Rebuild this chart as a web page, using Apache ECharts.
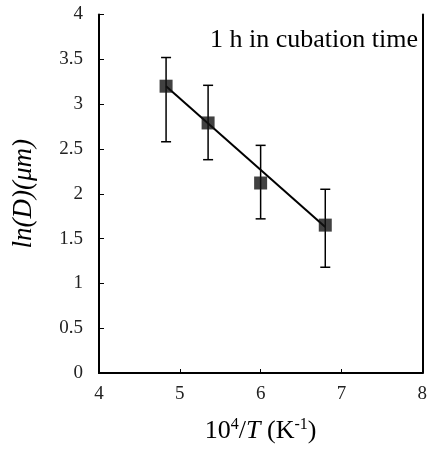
<!DOCTYPE html>
<html>
<head>
<meta charset="utf-8">
<script src="https://cdn.jsdelivr.net/npm/echarts@6/dist/echarts.min.js"></script>
<style>
  html, body { margin: 0; padding: 0; background: #fff; }
  #chart { width: 430px; height: 450px; }
</style>
</head>
<body>
<div id="chart"></div>
<script>
// data
const xVals = [4.83, 5.35, 6.0, 6.8];
const yVals = [3.2, 2.79, 2.12, 1.65];
const errHigh = [3.52, 3.21, 2.54, 2.05];
const errLow = [2.58, 2.38, 1.72, 1.18];
const fitLine = [[4.83, 3.2], [6.8, 1.63]];
const xTicks = [4, 5, 6, 7, 8];
const yTicks = [0, 0.5, 1, 1.5, 2, 2.5, 3, 3.5, 4];
const noteText = '1 h in cubation time';

const serif = '"Liberation Serif", "DejaVu Serif", serif';

const chart = echarts.init(document.getElementById('chart'));

const points = xVals.map((x, i) => [x, yVals[i]]);
const bars = xVals.map((x, i) => [x, errLow[i], errHigh[i]]);

chart.setOption({
    animation: false,
    grid: { left: 99, right: 6, top: 14.5, bottom: 77, containLabel: false },
    xAxis: [
        {
            type: 'value', min: xTicks[0], max: xTicks[xTicks.length - 1], interval: 1,
            position: 'bottom',
            axisLine: { lineStyle: { color: '#000', width: 2 } },
            axisTick: { inside: true, length: 4, lineStyle: { color: '#000', width: 1 } },
            axisLabel: { color: '#222', fontFamily: serif, fontSize: 19, margin: 12 },
            splitLine: { show: false },
            name: '10{sup|4}/{i|T} (K{sup|-1})',
            nameLocation: 'middle', nameGap: 44,
            nameTextStyle: {
                color: '#000', fontFamily: serif, fontSize: 26,
                rich: {
                    sup: { fontFamily: serif, fontSize: 16, verticalAlign: 'top', padding: [0, 0, 12, 0], color: '#000' },
                    i: { fontFamily: serif, fontSize: 26, fontStyle: 'italic', color: '#000' }
                }
            }
        },
        {
            type: 'value', min: xTicks[0], max: xTicks[xTicks.length - 1], position: 'top',
            axisLine: { show: true, lineStyle: { color: '#000', width: 2 } },
            axisTick: { show: false }, axisLabel: { show: false }, splitLine: { show: false }
        }
    ],
    yAxis: [
        {
            type: 'value', min: 0, max: 4, interval: 0.5,
            position: 'left',
            axisLine: { show: true, lineStyle: { color: '#000', width: 2 } },
            axisTick: { show: true, inside: true, length: 5, lineStyle: { color: '#000', width: 1 } },
            axisLabel: { color: '#222', fontFamily: serif, fontSize: 19, margin: 16 },
            splitLine: { show: false },
            name: 'ln(D)(μm)',
            nameLocation: 'middle', nameGap: 62,
            nameTextStyle: { color: '#000', fontFamily: serif, fontSize: 27, fontStyle: 'italic' }
        },
        {
            type: 'value', min: 0, max: 4, position: 'right',
            axisLine: { show: true, lineStyle: { color: '#000', width: 2 } },
            axisTick: { show: false }, axisLabel: { show: false }, splitLine: { show: false }
        }
    ],
    graphic: [{
        type: 'text', right: 12, top: 27,
        style: { text: noteText, fontFamily: serif, fontSize: 26, fill: '#000' }
    }],
    series: [
        {
            type: 'line', data: fitLine, symbol: 'none',
            lineStyle: { color: '#000', width: 2 }, z: 2
        },
        {
            type: 'custom', data: bars, z: 3,
            renderItem: function (params, api) {
                const x = api.value(0);
                const lo = api.coord([x, api.value(1)]);
                const hi = api.coord([x, api.value(2)]);
                const cap = 5;
                const style = { stroke: '#000', lineWidth: 1.5 };
                return {
                    type: 'group',
                    children: [
                        { type: 'line', shape: { x1: lo[0], y1: lo[1], x2: hi[0], y2: hi[1] }, style: style },
                        { type: 'line', shape: { x1: hi[0] - cap, y1: hi[1], x2: hi[0] + cap, y2: hi[1] }, style: style },
                        { type: 'line', shape: { x1: lo[0] - cap, y1: lo[1], x2: lo[0] + cap, y2: lo[1] }, style: style }
                    ]
                };
            }
        },
        {
            type: 'scatter', data: points, symbol: 'rect', symbolSize: 13,
            itemStyle: { color: '#111' }, z: 4
        }
    ]
});
</script>
</body>
</html>
